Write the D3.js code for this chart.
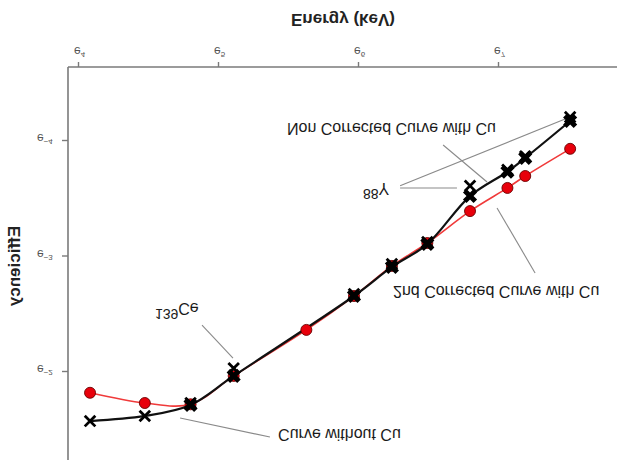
<!DOCTYPE html>
<html>
<head>
<meta charset="utf-8">
<script src="https://cdn.jsdelivr.net/npm/d3@7"></script>
<style>
  html, body { margin: 0; padding: 0; background: #fff; }
  svg { display: block; font-family: "Liberation Sans", Arial, sans-serif; }
</style>
</head>
<body>
<svg id="chart" width="617" height="460"></svg>
<script>
// ---- data (energy in keV, efficiency) ----
const energyWithoutCu = [59.5, 88, 122, 166, 392, 514, 662, 898, 1173, 1332, 1836];
const effWithoutCu    = [0.207, 0.198, 0.177, 0.131, 0.0689, 0.0531, 0.0439, 0.0270, 0.0235, 0.0209, 0.0149];

const energyNonCorrected = [122, 166, 392, 514, 662, 898, 1173, 1332, 1836];
const effNonCorrected    = [0.180, 0.140, 0.0701, 0.0545, 0.0447, 0.0295, 0.0239, 0.0212, 0.0154];

const energyCorrected = [59.5, 88, 122, 166, 279, 392, 514, 662, 898, 1173, 1332, 1836];
const effCorrected    = [0.162, 0.177, 0.179, 0.140, 0.094, 0.0701, 0.0540, 0.0443, 0.0336, 0.0275, 0.0248, 0.0196];

const xTickExponents = [4, 5, 6, 7];
const yTickExponents = [-2, -3, -4];

const xTitle = "Energy (keV)";
const yTitle = "Efficiency";

// annotations: text anchor [energy, efficiency], leader lines [[E1,eff1],[E2,eff2]]
const annoLabels = [
  { text: "Non Corrected Curve with Cu", at: [243, 0.01567] },
  { text: "2nd Corrected Curve with Cu", at: [518, 0.0643] },
  { text: "Curve without Cu", at: [228, 0.2217] },
  { sup: "88", text: "Y", at: [418, 0.02635] },
  { sup: "139", text: "Ce", at: [94.6, 0.0745] }
];
const annoLines = [
  [[741, 0.01896], [1014, 0.02612]],
  [[545, 0.02752], [818, 0.02752]],
  [[545, 0.0270], [1771, 0.01515]],
  [[1089, 0.0327], [1429, 0.0574]],
  [[132.4, 0.0901], [165.2, 0.1199]],
  [[113.2, 0.2015], [215.1, 0.2377]]
];

// ---- build ----
const W = 617, H = 460;
const svg = d3.select("#chart");
// The reference is a vertically mirrored picture of the chart
const root = svg.append("g").attr("transform", `translate(0,${H}) scale(1,-1)`);

const x = d3.scaleLog().base(Math.E).domain([Math.exp(4), Math.exp(7)]).range([78, 498]);
const y = d3.scaleLog().base(Math.E).domain([Math.exp(-4), Math.exp(-2)]).range([319, 88]);

const axisY0 = 393, axisX0 = 68;
const axisColor = "#7a7a7a";

// frame lines
root.append("line").attr("x1", axisX0).attr("x2", W).attr("y1", axisY0).attr("y2", axisY0)
  .attr("stroke", axisColor).attr("stroke-width", 1.6);
root.append("line").attr("x1", axisX0).attr("x2", axisX0).attr("y1", 0).attr("y2", axisY0)
  .attr("stroke", axisColor).attr("stroke-width", 1.6);

// axes (ticks)
const xAxis = root.append("g").attr("transform", `translate(0,${axisY0})`)
  .call(d3.axisBottom(x).tickValues(xTickExponents.map(Math.exp)).tickSize(5).tickFormat(() => ""));
const yAxis = root.append("g").attr("transform", `translate(${axisX0},0)`)
  .call(d3.axisLeft(y).tickValues(yTickExponents.map(Math.exp)).tickSize(6).tickFormat(() => ""));
[xAxis, yAxis].forEach(a => {
  a.select(".domain").remove();
  a.selectAll(".tick line").attr("stroke", axisColor).attr("stroke-width", 1.4);
});

// tick labels
const xl = root.append("g").selectAll("text").data(xTickExponents).join("text")
  .attr("x", d => x(Math.exp(d)) - 4).attr("y", 413)
  .attr("font-size", 12).attr("fill", "#555");
xl.append("tspan").text("e");
xl.append("tspan").attr("dy", -5).attr("font-size", 8).text(d => d);

const yl = root.append("g").selectAll("text").data(yTickExponents).join("text")
  .attr("x", 37).attr("y", d => y(Math.exp(d)) + 7)
  .attr("font-size", 12).attr("fill", "#555");
yl.append("tspan").text("e");
yl.append("tspan").attr("dy", -5).attr("font-size", 8).text(d => "\u2212" + Math.abs(d));

// axis titles
root.append("text").attr("x", 343).attr("y", 446).attr("text-anchor", "middle")
  .attr("font-size", 17).attr("font-weight", "bold").attr("fill", "#222").text(xTitle);
root.append("text").attr("transform", `translate(20,${H - 266}) rotate(-90)`)
  .attr("text-anchor", "middle").attr("font-size", 17).attr("font-weight", "bold")
  .attr("fill", "#222").text(yTitle);

// series
const toPts = (es, vs) => es.map((e, i) => [e, vs[i]]);
const ptsWithout = toPts(energyWithoutCu, effWithoutCu);
const ptsNon = toPts(energyNonCorrected, effNonCorrected);
const ptsCor = toPts(energyCorrected, effCorrected);

// black curve: low-energy part of the no-Cu curve joining the with-Cu curve
const firstNonE = energyNonCorrected[0];
const ptsBlack = ptsWithout.filter(d => d[0] < firstNonE).concat(ptsNon);

const line = d3.line().x(d => x(d[0])).y(d => y(d[1])).curve(d3.curveCatmullRom.alpha(0.5));

root.append("path").attr("d", line(ptsCor)).attr("fill", "none")
  .attr("stroke", "#f03a3a").attr("stroke-width", 1.6);
root.append("path").attr("d", line(ptsBlack)).attr("fill", "none")
  .attr("stroke", "#111").attr("stroke-width", 2.2);

// leader lines
root.append("g").selectAll("line").data(annoLines).join("line")
  .attr("x1", d => x(d[0][0])).attr("y1", d => y(d[0][1]))
  .attr("x2", d => x(d[1][0])).attr("y2", d => y(d[1][1]))
  .attr("stroke", "#8a8a8a").attr("stroke-width", 1.1);

// markers
root.append("g").selectAll("circle").data(ptsCor).join("circle")
  .attr("cx", d => x(d[0])).attr("cy", d => y(d[1])).attr("r", 5.5)
  .attr("fill", "#e8000b").attr("stroke", "#6a0000").attr("stroke-width", 0.9);

const filledSym = d3.symbol().type(d3.symbolCross).size(125);
root.append("g").selectAll("path").data(ptsNon).join("path")
  .attr("d", filledSym)
  .attr("transform", d => `translate(${x(d[0])},${y(d[1])}) rotate(45)`)
  .attr("fill", "#000");

const timesSym = d3.symbol().type(d3.symbolTimes).size(75);
root.append("g").selectAll("path").data(ptsWithout).join("path")
  .attr("d", timesSym)
  .attr("transform", d => `translate(${x(d[0])},${y(d[1])})`)
  .attr("fill", "none").attr("stroke", "#000").attr("stroke-width", 2.8);

// annotation texts
const at = root.append("g").selectAll("text").data(annoLabels).join("text")
  .attr("x", d => x(d.at[0])).attr("y", d => y(d.at[1]))
  .attr("font-size", 16).attr("fill", "#1a1a1a");
at.filter(d => d.sup).append("tspan").attr("font-size", 14).attr("dy", -6).text(d => d.sup);
at.append("tspan").attr("dy", d => d.sup ? 6 : 0).text(d => d.text);
</script>
</body>
</html>
